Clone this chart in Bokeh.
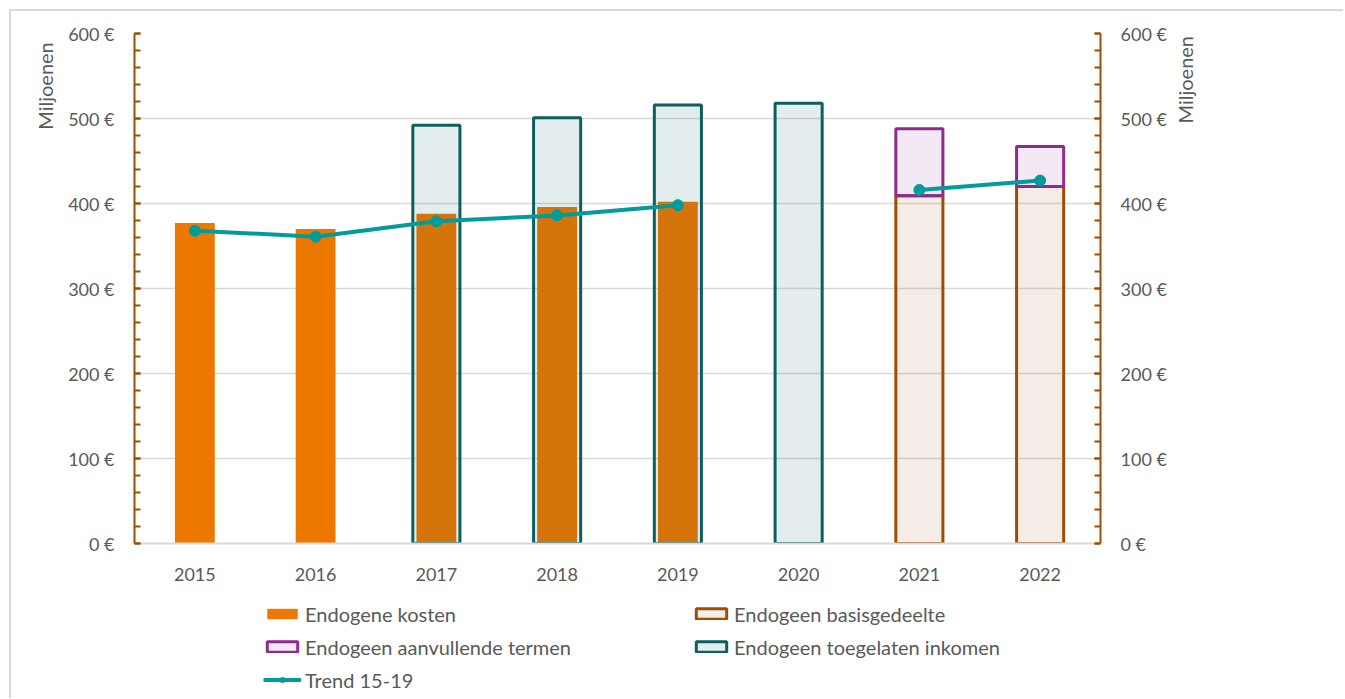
import math
from bokeh.plotting import figure
from bokeh.layouts import column
from bokeh.models import (Range1d, FactorRange, LinearAxis, SingleIntervalTicker,
                          PrintfTickFormatter, Legend, LegendItem, ColumnDataSource)
from bokeh.embed import file_html
from bokeh.resources import INLINE

nan = float("nan")
years = ["2015", "2016", "2017", "2018", "2019", "2020", "2021", "2022"]
endogene_kosten = [377, 370, 388, 396, 402, nan, nan, nan]
toegelaten_inkomen = [nan, nan, 492, 501, 516, 518, nan, nan]
basisgedeelte = [nan, nan, nan, nan, nan, nan, 409, 420]
aanvullende_termen = [nan, nan, nan, nan, nan, nan, 79, 47]
trend_15_19 = [368, 361, 379, 386, 398, nan, 416, 427]

FONT = "Lato"
GREY = "#595959"
BROWN = "#9C4F00"
TEAL_DARK = "#0B5F5F"
PURPLE = "#8E2A90"
ORANGE = "#ED7800"
TREND = "#009C9C"
BORDER = "2px solid #D9D9D9"

aanv_top = [b + a for b, a in zip(basisgedeelte, aanvullende_termen)]
src = ColumnDataSource(dict(x=years, kosten=endogene_kosten, toeg=toegelaten_inkomen,
                            basis=basisgedeelte, aanv_top=aanv_top, trend=trend_15_19))

p = figure(x_range=FactorRange(*years, range_padding=0), y_range=Range1d(0, 600),
           frame_width=964, frame_height=508, output_backend="svg",
           toolbar_location=None, min_border_left=123, min_border_top=22,
           min_border_right=245, min_border_bottom=45)
p.styles = {"border-top": BORDER, "border-left": BORDER,
            "margin-left": "9px", "margin-top": "9px"}
p.outline_line_color = None
p.background_fill_color = "white"
p.border_fill_color = "white"

bar_styles = dict(
    kosten=dict(fill_color=ORANGE, line_color=None),
    toeg=dict(fill_color=TEAL_DARK, fill_alpha=0.11, line_color=TEAL_DARK, line_width=3),
    basis=dict(fill_color=BROWN, fill_alpha=0.1, line_color=BROWN, line_width=3),
    aanv=dict(fill_color=PURPLE, fill_alpha=0.1, line_color=PURPLE, line_width=3),
)

p.vbar(x="x", top="kosten", width=0.33, source=src, **bar_styles["kosten"])
p.vbar(x="x", top="toeg", width=0.39, source=src, **bar_styles["toeg"])
p.vbar(x="x", top="basis", width=0.39, source=src, **bar_styles["basis"])
p.vbar(x="x", bottom="basis", top="aanv_top", width=0.39, source=src, **bar_styles["aanv"])
p.line(x="x", y="trend", source=src, line_color=TREND, line_width=4)
p.scatter(x="x", y="trend", source=src, size=11, fill_color=TREND, line_color=TREND)

# y axes
fmt = PrintfTickFormatter(format="%d €")
ly = p.yaxis[0]
ly.ticker = SingleIntervalTicker(interval=100, num_minor_ticks=5)
ly.formatter = fmt
ry = LinearAxis(ticker=SingleIntervalTicker(interval=100, num_minor_ticks=5), formatter=fmt)
p.add_layout(ry, "right")
# axis titles pushed towards the top end of the axes with leading em spaces
for ax, standoff, n_sp in ((ly, 8, 27), (ry, 15, 11)):
    ax.axis_line_color = BROWN
    ax.axis_line_width = 2
    ax.major_tick_line_color = BROWN
    ax.minor_tick_line_color = BROWN
    ax.major_tick_line_width = 2
    ax.minor_tick_line_width = 2
    ax.major_tick_in = 6
    ax.major_tick_out = 0
    ax.minor_tick_in = 6
    ax.minor_tick_out = 0
    ax.major_label_text_font = FONT
    ax.major_label_text_font_size = "18px"
    ax.major_label_text_color = GREY
    ax.major_label_standoff = 20
    ax.axis_label = "\u2003" * n_sp + "Miljoenen"
    ax.axis_label_text_font = FONT
    ax.axis_label_text_font_size = "20px"
    ax.axis_label_text_color = GREY
    ax.axis_label_text_font_style = "normal"
    ax.axis_label_standoff = standoff
ry.axis_label_orientation = math.pi / 2

xa = p.xaxis[0]
xa.axis_line_color = "#D9D9D9"
xa.axis_line_width = 2
xa.major_tick_line_color = None
xa.minor_tick_line_color = None
xa.major_label_text_font = FONT
xa.major_label_text_font_size = "18px"
xa.major_label_text_color = GREY
xa.major_label_standoff = 18

p.xgrid.grid_line_color = None
p.ygrid.ticker = SingleIntervalTicker(interval=100)
p.ygrid.bounds = (0, 600)
p.ygrid.grid_line_color = "#D9D9D9"
p.ygrid.grid_line_width = 1.5

# legend strip below the chart; its sample renderers hold only missing values
q = figure(width=1332, height=112, x_range=Range1d(0, 1), y_range=Range1d(0, 1),
           x_axis_type=None, y_axis_type=None, output_backend="svg",
           toolbar_location=None, min_border=0)
q.styles = {"border-left": BORDER, "margin-left": "9px"}
q.outline_line_color = None
q.xgrid.grid_line_color = None
q.ygrid.grid_line_color = None
off = ColumnDataSource(dict(x=[nan, nan], y=[nan, nan]))
g_kosten = q.vbar(x="x", top="y", width=0.1, source=off, **bar_styles["kosten"])
g_basis = q.vbar(x="x", top="y", width=0.1, source=off, **bar_styles["basis"])
g_aanv = q.vbar(x="x", top="y", width=0.1, source=off, **bar_styles["aanv"])
g_toeg = q.vbar(x="x", top="y", width=0.1, source=off, **bar_styles["toeg"])
g_line = q.line(x="x", y="y", source=off, line_color=TREND, line_width=4)
g_pts = q.scatter(x="x", y="y", source=off, size=11, fill_color=TREND, line_color=TREND)

legend = Legend(items=[LegendItem(label="Endogene kosten", renderers=[g_kosten]),
                       LegendItem(label="Endogeen basisgedeelte", renderers=[g_basis]),
                       LegendItem(label="Endogeen aanvullende termen", renderers=[g_aanv]),
                       LegendItem(label="Endogeen toegelaten inkomen", renderers=[g_toeg]),
                       LegendItem(label="Trend 15-19", renderers=[g_line, g_pts])],
                orientation="horizontal", ncols=2, location=(129, 2), margin=0,
                label_text_font=FONT, label_text_font_size="20px", label_text_color=GREY,
                glyph_width=38, glyph_height=13, label_height=33, label_width=387,
                spacing=0, label_standoff=4, padding=0, border_line_color=None,
                background_fill_alpha=0)
q.add_layout(legend)

layout = column(p, q, spacing=0)
open("out.html", "w").write(file_html(layout, INLINE))
